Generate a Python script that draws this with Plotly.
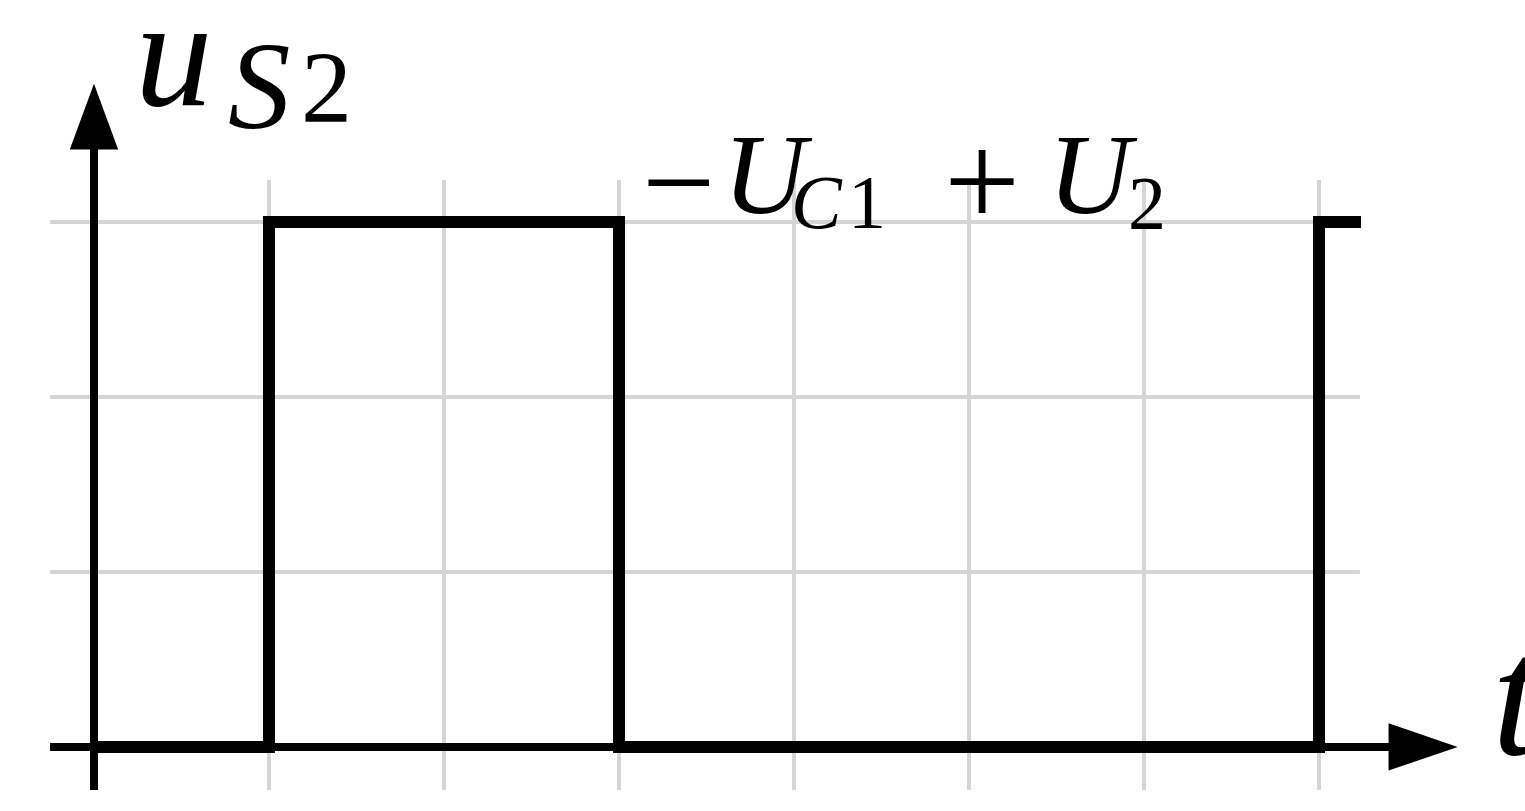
import plotly.graph_objects as go

# Switching waveform of u_S2 over one period (time in grid units)
t_points = [0, 1, 3, 7, 7.24]
u_points = [0, 3, 0, 3, 3]

# Grid positions
grid_t = [0, 1, 2, 3, 4, 5, 6, 7]
grid_u = [0, 1, 2, 3]

# Axis and grid extents (data units)
T_MIN, T_MAX = -0.537, 8.177
U_MIN, U_MAX = -0.366, 4.269
GRID_T_END = 7.234
GRID_U_END = 3.24
AXIS_T_START = -0.251
AXIS_U_START = -0.246

GRID_COLOR = "#d5d5d5"
INK = "#000000"
FONT = "Liberation Serif"

fig = go.Figure()

shapes = []
for gx in grid_t:
    shapes.append(dict(type="line", xref="x", yref="y", x0=gx, x1=gx,
                       y0=AXIS_U_START, y1=GRID_U_END,
                       line=dict(color=GRID_COLOR, width=4), layer="below"))
for gy in grid_u:
    shapes.append(dict(type="line", xref="x", yref="y", x0=AXIS_T_START, x1=GRID_T_END,
                       y0=gy, y1=gy,
                       line=dict(color=GRID_COLOR, width=4), layer="below"))

# Axes with arrowheads
y_arrow_base, y_arrow_tip, y_arrow_half = 3.423, 3.766, 0.126
x_arrow_base, x_arrow_tip, x_arrow_half = 7.406, 7.766, 0.123
shapes.append(dict(type="line", xref="x", yref="y", x0=0, x1=0,
                   y0=AXIS_U_START, y1=y_arrow_base + 0.02,
                   line=dict(color=INK, width=8), layer="below"))
shapes.append(dict(type="line", xref="x", yref="y", x0=AXIS_T_START, x1=x_arrow_base + 0.02,
                   y0=0, y1=0,
                   line=dict(color=INK, width=8), layer="below"))
shapes.append(dict(type="path", xref="x", yref="y",
                   path=f"M {-y_arrow_half},{y_arrow_base} L {y_arrow_half},{y_arrow_base} L 0,{y_arrow_tip} Z",
                   fillcolor=INK, line=dict(color=INK, width=3), layer="below"))
shapes.append(dict(type="path", xref="x", yref="y",
                   path=f"M {x_arrow_base},{-x_arrow_half} L {x_arrow_base},{x_arrow_half} L {x_arrow_tip},0 Z",
                   fillcolor=INK, line=dict(color=INK, width=3), layer="below"))

fig.add_trace(go.Scatter(
    x=t_points, y=u_points, mode="lines",
    line=dict(color=INK, width=12, shape="hv"),
    hoverinfo="skip", showlegend=False,
))


def label(x, y, text, size):
    return dict(x=x, y=y, xref="x", yref="y", xanchor="left", yanchor="bottom",
                text=text, showarrow=False,
                font=dict(family=FONT, size=size, color=INK))


MAIN, SUB = 115, 76
annotations = [
    # vertical axis name u_S2
    label(0.223, 3.466, "<i>u</i>", 155),
    label(0.754, 3.371, "<i>S</i>", 125),
    label(1.171, 3.434, "2", 102),
    # horizontal axis name
    label(7.977, -0.261, "<i>t</i>", 172),
    # level of the high state: −U_C1 + U_2
    label(3.12, 2.807, "−", 130),
    label(3.583, 2.898, "<i>U</i>", MAIN),
    label(3.971, 2.861, "<i>C</i>", SUB),
    label(4.297, 2.861, "1", SUB),
    label(4.846, 2.793, "+", 135),
    label(5.44, 2.898, "<i>U</i>", MAIN),
    label(5.897, 2.855, "2", SUB),
]

fig.update_layout(
    width=1525, height=811, autosize=False,
    margin=dict(l=0, r=0, t=0, b=0),
    paper_bgcolor="white", plot_bgcolor="white",
    xaxis=dict(range=[T_MIN, T_MAX], visible=False, fixedrange=True),
    yaxis=dict(range=[U_MIN, U_MAX], visible=False, fixedrange=True),
    shapes=shapes, annotations=annotations,
)

fig.write_html("out.html", config={"displayModeBar": False})
